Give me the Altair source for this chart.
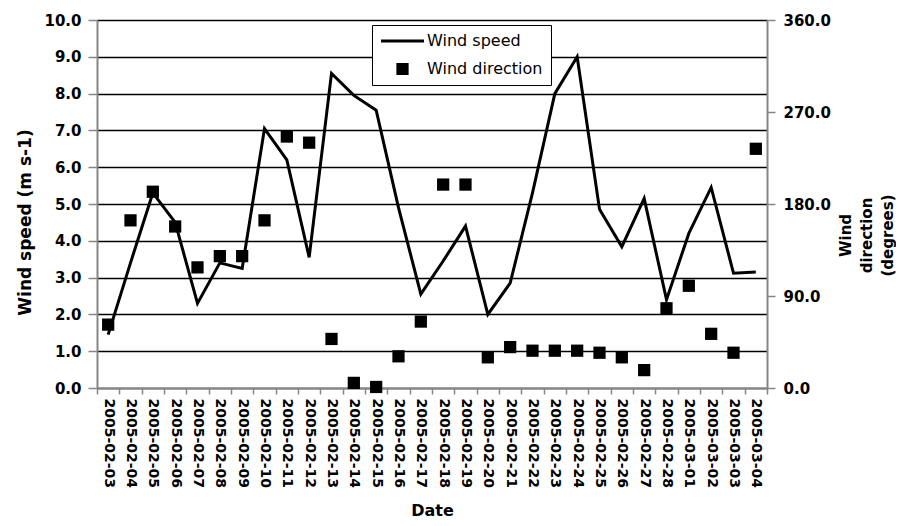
import altair as alt
import pandas as pd

dates = [
    "2005-02-03", "2005-02-04", "2005-02-05", "2005-02-06", "2005-02-07",
    "2005-02-08", "2005-02-09", "2005-02-10", "2005-02-11", "2005-02-12",
    "2005-02-13", "2005-02-14", "2005-02-15", "2005-02-16", "2005-02-17",
    "2005-02-18", "2005-02-19", "2005-02-20", "2005-02-21", "2005-02-22",
    "2005-02-23", "2005-02-24", "2005-02-25", "2005-02-26", "2005-02-27",
    "2005-02-28", "2005-03-01", "2005-03-02", "2005-03-03", "2005-03-04",
]
wind_speed = [1.45, 3.4, 5.3, 4.5, 2.3, 3.4, 3.25, 7.05, 6.2, 3.55,
              8.55, 7.95, 7.55, 4.9, 2.55, 3.45, 4.4, 2.0, 2.85, 5.3,
              8.0, 9.0, 4.86, 3.84, 5.15, 2.4, 4.2, 5.45, 3.12, 3.15]
wind_direction = [62, 164, 192, 158, 118, 129, 129, 164, 246, 240,
                  48, 5, 1, 31, 65, 199, 199, 30, 40, 36.5,
                  36.5, 36.5, 34.5, 30, 17.5, 78, 100, 53, 34.5, 234]
series_names = ["Wind speed", "Wind direction"]

df = pd.DataFrame({
    "date": dates,
    "speed": wind_speed,
    "direction": wind_direction,
    "series": series_names[1],
})

FONT = "DejaVu Sans"
GRAY = "#868686"
LINE_SYMBOL = "M -1 -0.07 L 1 -0.07 L 1 0.07 L -1 0.07 Z"

x_enc = alt.X(
    "date:O",
    sort=None,
    bandPosition=0.5,
    scale=alt.Scale(type="band", paddingInner=0, paddingOuter=0),
    axis=alt.Axis(
        title="Date",
        labelAngle=90,
        tickBand="extent",
        labelFont=FONT, labelFontWeight="bold", labelFontSize=14,
        labelColor="black", labelPadding=4,
        tickSize=6, tickColor=GRAY, tickWidth=1.5,
        domainColor=GRAY, domainWidth=2,
        titleFont=FONT, titleFontWeight="bold", titleFontSize=16,
        titleColor="black", titleX=335, titleY=122, titleBaseline="middle",
        grid=False,
    ),
)

line = alt.Chart(df).mark_line(color="black", strokeWidth=3).encode(
    x=x_enc,
    y=alt.Y(
        "speed:Q",
        scale=alt.Scale(domain=[0, 10], nice=False),
        axis=alt.Axis(
            title="Wind speed (m s-1)",
            values=[0, 1, 2, 3, 4, 5, 6, 7, 8, 9, 10],
            format=".1f",
            grid=True, gridColor="black", gridWidth=1.5,
            labelFont=FONT, labelFontWeight="bold", labelFontSize=15,
            labelColor="black", labelPadding=7,
            tickSize=9, tickColor=GRAY, tickWidth=1.5,
            domainColor=GRAY, domainWidth=2,
            titleFont=FONT, titleFontWeight="bold", titleFontSize=17,
            titleColor="black", titleX=-72, titleY=202,
            titleBaseline="middle", titleAngle=270,
        ),
    ),
)

legend_kw = dict(
    title=None,
    orient="none", legendX=275, legendY=5,
    fillColor="white", strokeColor="black", padding=8,
    labelFont=FONT, labelFontSize=16, labelColor="black",
    labelOffset=2,
    symbolFillColor="black",
    clipHeight=16, rowPadding=12,
)

points = alt.Chart(df).mark_point(
    filled=True, opacity=1, color="black"
).encode(
    x=x_enc,
    y=alt.Y(
        "direction:Q",
        scale=alt.Scale(domain=[0, 360], nice=False),
        axis=alt.Axis(
            orient="right",
            title=["Wind", "direction", "(degrees)"],
            values=[0, 90, 180, 270, 360],
            format=".1f",
            grid=False,
            labelFont=FONT, labelFontWeight="bold", labelFontSize=15,
            labelColor="black", labelPadding=8,
            tickSize=8, tickColor=GRAY, tickWidth=1.5,
            domainColor=GRAY, domainWidth=2,
            titleFont=FONT, titleFontWeight="bold", titleFontSize=15,
            titleColor="black", titleAngle=270, titleX=71, titleY=215,
            titleBaseline="top", titleAlign="center", titleLineHeight=21,
        ),
    ),
    shape=alt.Shape(
        "series:N",
        scale=alt.Scale(domain=series_names, range=[LINE_SYMBOL, "square"]),
        legend=alt.Legend(**legend_kw),
    ),
    size=alt.Size(
        "series:N",
        scale=alt.Scale(domain=series_names, range=[1849, 150]),
        legend=alt.Legend(**legend_kw),
    ),
)

chart = alt.layer(line, points).resolve_scale(y="independent").properties(
    width=670,
    height=368,
    autosize=alt.AutoSizeParams(type="none"),
    padding={"left": 89, "top": 12, "right": 129, "bottom": 130},
).configure_view(stroke=GRAY, strokeWidth=2).configure(background="white")

chart.save("out.html", embed_options={"renderer": "svg", "actions": False})
